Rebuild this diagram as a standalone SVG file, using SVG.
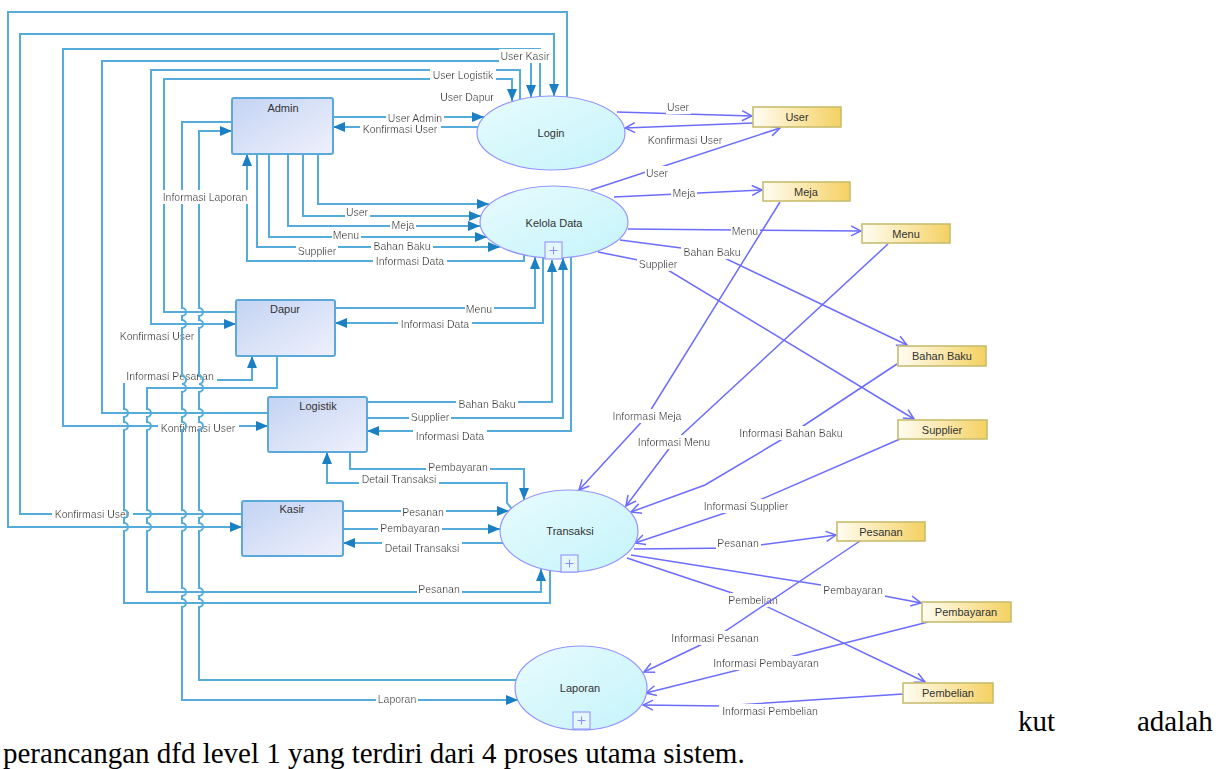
<svg xmlns="http://www.w3.org/2000/svg" width="1222" height="769" viewBox="0 0 1222 769">
  <defs>
    <style>
      .fl { fill: none; stroke: #55acda; stroke-width: 2; }
      .df { fill: none; stroke: #6c6cff; stroke-width: 1.5; }
      .lb { font-family: "Liberation Sans", Arial, sans-serif; font-size: 10.5px; fill: #3a3a3a; text-anchor: middle; filter: url(#bg); }
      .nt { font-family: "Liberation Sans", Arial, sans-serif; font-size: 11px; fill: #333; text-anchor: middle; }
      .ent { fill: url(#gEnt); stroke: #5aa9da; stroke-width: 2; }
      .proc { fill: url(#gProc); stroke: #9494ff; stroke-width: 1.2; }
      .store { fill: url(#gStore); stroke: #c8bd6e; stroke-width: 1.6; }
      .plus { fill: #e4f7fd; stroke: #8c8cff; stroke-width: 1; }
      .body { font-family: "Liberation Serif", "Times New Roman", serif; font-size: 29px; fill: #000; }
    </style>
    <filter id="bg" x="-0.03" y="-0.05" width="1.06" height="1.1">
      <feFlood flood-color="#ffffff"/>
      <feComposite in="SourceGraphic" operator="over"/>
    </filter>
    <linearGradient id="gEnt" x1="0" y1="0" x2="1" y2="1">
      <stop offset="0" stop-color="#c3d3f3"/>
      <stop offset="1" stop-color="#eff1fc"/>
    </linearGradient>
    <linearGradient id="gProc" x1="0" y1="0" x2="1" y2="1">
      <stop offset="0" stop-color="#e8fbfe"/>
      <stop offset="1" stop-color="#c4f4fa"/>
    </linearGradient>
    <linearGradient id="gStore" x1="0" y1="0" x2="1" y2="0">
      <stop offset="0" stop-color="#fffdf3"/>
      <stop offset="1" stop-color="#f5d162"/>
    </linearGradient>
    <marker id="ab" viewBox="0 0 12 10" refX="12" refY="5" markerWidth="12" markerHeight="10" markerUnits="userSpaceOnUse" orient="auto">
      <path d="M0,0 L12,5 L0,10 z" fill="#1b7fc3"/>
    </marker>
    <marker id="ao" viewBox="0 0 12 12" refX="11" refY="6" markerWidth="12" markerHeight="12" markerUnits="userSpaceOnUse" orient="auto">
      <path d="M1,1 L11,6 L1,11" fill="none" stroke="#6c6cff" stroke-width="1.5"/>
    </marker>
  </defs>

  <rect width="1222" height="769" fill="#ffffff"/>

  <!-- data flows -->
  <g id="connectors">
    <!-- Login loops to Kasir, Logistik, Dapur -->
    <g id="f-login-kasir"><path class="fl" d="M567,97 V12 H8 V527 H242" marker-end="url(#ab)"/></g>
    <g id="f-kasir-login"><path class="fl" d="M242,514 H20 V34 H554 V96" marker-end="url(#ab)"/></g>
    <g id="f-login-logistik"><path class="fl" d="M540,97 V49 H63 V426 H268" marker-end="url(#ab)"/></g>
    <g id="f-logistik-login"><path class="fl" d="M268,413 H102 V61 H531 V97" marker-end="url(#ab)"/></g>
    <g id="f-login-dapur"><path class="fl" d="M520,99 V70 H151 V324 H236" marker-end="url(#ab)"/></g>
    <g id="f-dapur-login"><path class="fl" d="M236,312 H164 V79 H512 V101" marker-end="url(#ab)"/></g>
    <text class="lb" x="525" y="60">User Kasir</text>
    <text class="lb" x="463" y="79">User Logistik</text>
    <text class="lb" x="467" y="101">User Dapur</text>
    <text class="lb" x="92" y="518">Konfirmasi User</text>
    <text class="lb" x="198" y="432">Konfirmasi User</text>
    <text class="lb" x="157" y="340">Konfirmasi User</text>

    <!-- Admin and Login -->
    <g id="f-admin-login"><path class="fl" d="M333,117 H484" marker-end="url(#ab)"/><text class="lb" x="415" y="122">User Admin</text></g>
    <g id="f-login-admin"><path class="fl" d="M478,127 H333" marker-end="url(#ab)"/><text class="lb" x="400" y="133">Konfirmasi User</text></g>

    <!-- Admin and Kelola Data -->
    <g id="f-admin-kelola-user"><path class="fl" d="M318,154 V204 H489" marker-end="url(#ab)"/></g>
    <g id="f-admin-kelola-meja"><path class="fl" d="M303,154 V216 H481" marker-end="url(#ab)"/></g>
    <g id="f-admin-kelola-menu"><path class="fl" d="M288,154 V226 H480" marker-end="url(#ab)"/></g>
    <g id="f-admin-kelola-bahan"><path class="fl" d="M269,154 V237 H487" marker-end="url(#ab)"/></g>
    <g id="f-admin-kelola-supplier"><path class="fl" d="M257,154 V247 H500" marker-end="url(#ab)"/></g>
    <g id="f-kelola-admin"><path class="fl" d="M524,255 V261 H247 V154" marker-end="url(#ab)"/></g>
    <text class="lb" x="357" y="216">User</text>
    <text class="lb" x="403" y="229">Meja</text>
    <text class="lb" x="346" y="239">Menu</text>
    <text class="lb" x="402" y="250">Bahan Baku</text>
    <text class="lb" x="317" y="255">Supplier</text>
    <text class="lb" x="410" y="265">Informasi Data</text>

    <!-- Dapur and Kelola Data -->
    <g id="f-dapur-kelola"><path class="fl" d="M335,308 H535 V257" marker-end="url(#ab)"/><text class="lb" x="479" y="313">Menu</text></g>
    <g id="f-kelola-dapur"><path class="fl" d="M543,258 V323 H335" marker-end="url(#ab)"/><text class="lb" x="435" y="328">Informasi Data</text></g>

    <!-- Logistik and Kelola Data -->
    <g id="f-logistik-kelola-bahan"><path class="fl" d="M367,402 H552 V260" marker-end="url(#ab)"/><text class="lb" x="487" y="408">Bahan Baku</text></g>
    <g id="f-logistik-kelola-supplier"><path class="fl" d="M367,418 H563 V258" marker-end="url(#ab)"/><text class="lb" x="430" y="421">Supplier</text></g>
    <g id="f-kelola-logistik"><path class="fl" d="M571,257 V431 H367" marker-end="url(#ab)"/><text class="lb" x="450" y="440">Informasi Data</text></g>

    <!-- Logistik and Transaksi -->
    <g id="f-logistik-transaksi"><path class="fl" d="M350,452 V469 H524 V500" marker-end="url(#ab)"/><text class="lb" x="458" y="471">Pembayaran</text></g>
    <g id="f-transaksi-logistik"><path class="fl" d="M512,509 L507,503 V483 H327 V452" marker-end="url(#ab)"/><text class="lb" x="399" y="483">Detail Transaksi</text></g>

    <!-- Kasir and Transaksi -->
    <g id="f-kasir-transaksi-pesanan"><path class="fl" d="M343,511 H509" marker-end="url(#ab)"/><text class="lb" x="423" y="516">Pesanan</text></g>
    <g id="f-kasir-transaksi-bayar"><path class="fl" d="M343,529 H500" marker-end="url(#ab)"/><text class="lb" x="410" y="532">Pembayaran</text></g>
    <g id="f-transaksi-kasir"><path class="fl" d="M503,543 H343" marker-end="url(#ab)"/><text class="lb" x="422" y="552">Detail Transaksi</text></g>

    <!-- Dapur and Transaksi (line hops over crossing flows) -->
    <g id="f-transaksi-dapur"><path class="fl" d="M550,571 V603 H124 V531 a4,4 0 0 0 0,-8 V518 a4,4 0 0 0 0,-8 V430 a4,4 0 0 0 0,-8 V417 a4,4 0 0 0 0,-8 V380 H252 V356" marker-end="url(#ab)"/><text class="lb" x="170" y="380">Informasi Pesanan</text></g>
    <g id="f-dapur-transaksi"><path class="fl" d="M277,356 V388 H147 V409 a4,4 0 0 1 0,8 V422 a4,4 0 0 1 0,8 V510 a4,4 0 0 1 0,8 V523 a4,4 0 0 1 0,8 V592 H541 V569" marker-end="url(#ab)"/><text class="lb" x="439" y="593">Pesanan</text></g>

    <!-- Admin and Laporan -->
    <g id="f-admin-laporan"><path class="fl" d="M232,122 H182 V308 a4,4 0 0 1 0,8 V320 a4,4 0 0 1 0,8 V376 a4,4 0 0 1 0,8 a4,4 0 0 1 0,8 V409 a4,4 0 0 1 0,8 V422 a4,4 0 0 1 0,8 V510 a4,4 0 0 1 0,8 V523 a4,4 0 0 1 0,8 V588 a4,4 0 0 1 0,8 V599 a4,4 0 0 1 0,8 V700 H518" marker-end="url(#ab)"/><text class="lb" x="397" y="703">Laporan</text></g>
    <g id="f-laporan-admin"><path class="fl" d="M516,680 H199 V607 a4,4 0 0 0 0,-8 V596 a4,4 0 0 0 0,-8 V531 a4,4 0 0 0 0,-8 V518 a4,4 0 0 0 0,-8 V430 a4,4 0 0 0 0,-8 V417 a4,4 0 0 0 0,-8 V392 a4,4 0 0 0 0,-8 a4,4 0 0 0 0,-8 V328 a4,4 0 0 0 0,-8 V316 a4,4 0 0 0 0,-8 V131 H232" marker-end="url(#ab)"/><text class="lb" x="205" y="201">Informasi Laporan</text></g>

    <!-- data store flows -->
    <g id="d-login-user"><path class="df" d="M617,112 L752,116" marker-end="url(#ao)"/><text class="lb" x="678" y="111">User</text></g>
    <g id="d-user-login"><path class="df" d="M753,123 L625,128" marker-end="url(#ao)"/><text class="lb" x="685" y="144">Konfirmasi User</text></g>
    <g id="d-kelola-user"><path class="df" d="M591,190 L780,128" marker-end="url(#ao)"/><text class="lb" x="657" y="177">User</text></g>
    <g id="d-kelola-meja"><path class="df" d="M614,197 L762,190" marker-end="url(#ao)"/><text class="lb" x="684" y="197">Meja</text></g>
    <g id="d-kelola-menu"><path class="df" d="M628,229 L861,231" marker-end="url(#ao)"/><text class="lb" x="745" y="235">Menu</text></g>
    <g id="d-kelola-bahan"><path class="df" d="M620,240 L712,252 L907,345" marker-end="url(#ao)"/><text class="lb" x="712" y="256">Bahan Baku</text></g>
    <g id="d-kelola-supplier"><path class="df" d="M598,252 L658,264 L914,419" marker-end="url(#ao)"/><text class="lb" x="658" y="268">Supplier</text></g>
    <g id="d-meja-transaksi"><path class="df" d="M780,202 L647,416 L579,490" marker-end="url(#ao)"/><text class="lb" x="647" y="420">Informasi Meja</text></g>
    <g id="d-menu-transaksi"><path class="df" d="M888,244 L674,442 L626,506" marker-end="url(#ao)"/><text class="lb" x="674" y="446">Informasi Menu</text></g>
    <g id="d-bahan-transaksi"><path class="df" d="M897,364 L791,434 L705,485 L631,512" marker-end="url(#ao)"/><text class="lb" x="791" y="437">Informasi Bahan Baku</text></g>
    <g id="d-supplier-transaksi"><path class="df" d="M900,439 L746,506 L635,543" marker-end="url(#ao)"/><text class="lb" x="746" y="510">Informasi Supplier</text></g>
    <g id="d-transaksi-pesanan"><path class="df" d="M634,549 L738,548 L836,535" marker-end="url(#ao)"/><text class="lb" x="738" y="547">Pesanan</text></g>
    <g id="d-transaksi-pembayaran"><path class="df" d="M631,555 L853,590 L921,603" marker-end="url(#ao)"/><text class="lb" x="853" y="594">Pembayaran</text></g>
    <g id="d-transaksi-pembelian"><path class="df" d="M627,558 L753,600 L925,682" marker-end="url(#ao)"/><text class="lb" x="753" y="604">Pembelian</text></g>
    <g id="d-pesanan-laporan"><path class="df" d="M860,541 L715,638 L644,672" marker-end="url(#ao)"/><text class="lb" x="715" y="642">Informasi Pesanan</text></g>
    <g id="d-pembayaran-laporan"><path class="df" d="M928,622 L766,663 L646,693" marker-end="url(#ao)"/><text class="lb" x="766" y="667">Informasi Pembayaran</text></g>
    <g id="d-pembelian-laporan"><path class="df" d="M903,694 L722,706 L643,705" marker-end="url(#ao)"/><text class="lb" x="770" y="715">Informasi Pembelian</text></g>
  </g>

  <!-- external entities -->
  <g id="admin"><rect class="ent" x="232" y="98" width="101" height="56" rx="2"/><text class="nt" x="283" y="112">Admin</text></g>
  <g id="dapur"><rect class="ent" x="236" y="300" width="99" height="56" rx="2"/><text class="nt" x="285" y="313">Dapur</text></g>
  <g id="logistik"><rect class="ent" x="268" y="397" width="99" height="55" rx="2"/><text class="nt" x="318" y="410">Logistik</text></g>
  <g id="kasir"><rect class="ent" x="242" y="501" width="101" height="55" rx="2"/><text class="nt" x="292" y="513">Kasir</text></g>

  <!-- processes -->
  <g id="login"><ellipse class="proc" cx="551" cy="133" rx="74" ry="37"/><text class="nt" x="551" y="137">Login</text></g>
  <g id="kelola-data">
    <ellipse class="proc" cx="554" cy="222" rx="74" ry="36"/><text class="nt" x="554" y="227">Kelola Data</text>
    <rect class="plus" x="545" y="242" width="17" height="17"/><path d="M549.5,250.5 H557.5 M553.5,246.5 V254.5" stroke="#8c8cff" stroke-width="1"/>
  </g>
  <g id="transaksi">
    <ellipse class="proc" cx="569" cy="531" rx="69" ry="41"/><text class="nt" x="570" y="535">Transaksi</text>
    <rect class="plus" x="561" y="555" width="17" height="17"/><path d="M565.5,563.5 H573.5 M569.5,559.5 V567.5" stroke="#8c8cff" stroke-width="1"/>
  </g>
  <g id="laporan">
    <ellipse class="proc" cx="581" cy="688" rx="66" ry="42"/><text class="nt" x="580" y="692">Laporan</text>
    <rect class="plus" x="573" y="712" width="17" height="17"/><path d="M577.5,720.5 H585.5 M581.5,716.5 V724.5" stroke="#8c8cff" stroke-width="1"/>
  </g>

  <!-- data stores -->
  <g id="ds-user"><rect class="store" x="753" y="107" width="88" height="20"/><text class="nt" x="797" y="121">User</text></g>
  <g id="ds-meja"><rect class="store" x="763" y="182" width="87" height="19"/><text class="nt" x="806" y="196">Meja</text></g>
  <g id="ds-menu"><rect class="store" x="862" y="224" width="88" height="19"/><text class="nt" x="906" y="238">Menu</text></g>
  <g id="ds-bahan-baku"><rect class="store" x="898" y="346" width="88" height="20"/><text class="nt" x="942" y="360">Bahan Baku</text></g>
  <g id="ds-supplier"><rect class="store" x="898" y="420" width="89" height="19"/><text class="nt" x="942" y="434">Supplier</text></g>
  <g id="ds-pesanan"><rect class="store" x="837" y="522" width="88" height="19"/><text class="nt" x="881" y="536">Pesanan</text></g>
  <g id="ds-pembayaran"><rect class="store" x="922" y="602" width="89" height="20"/><text class="nt" x="966" y="616">Pembayaran</text></g>
  <g id="ds-pembelian"><rect class="store" x="903" y="683" width="90" height="20"/><text class="nt" x="948" y="697">Pembelian</text></g>

  <!-- surrounding document text -->
  <text class="body" x="1018" y="731">kut</text>
  <text class="body" x="1137" y="731">adalah</text>
  <text class="body" x="3" y="763">perancangan dfd level 1 yang terdiri dari 4 proses utama sistem.</text>
</svg>
